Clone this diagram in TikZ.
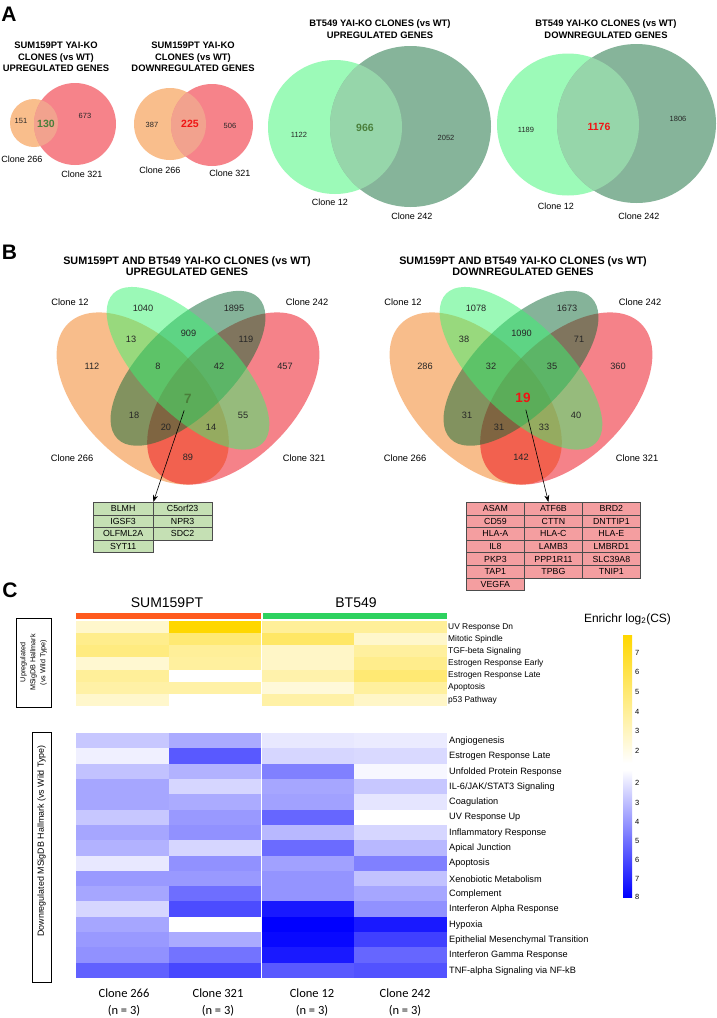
\documentclass[tikz,border=0pt]{standalone}
\usepackage{fontspec}
\setmainfont{Liberation Sans}
\newfontfamily\carlito{Carlito}
\usetikzlibrary{positioning,arrows.meta}

% venn colours
\definecolor{vorange}{RGB}{249,190,140}
\definecolor{vred}{RGB}{246,131,138}
\definecolor{vlens}{RGB}{242,162,142}
\definecolor{vlgreen}{RGB}{156,250,184}
\definecolor{vdgreen}{RGB}{134,180,154}
\definecolor{vglens}{RGB}{150,214,170}
\definecolor{borange}{RGB}{243,125,25}
\definecolor{bred}{RGB}{237,7,21}
\definecolor{blgreen}{RGB}{57,245,113}
\definecolor{bdgreen}{RGB}{13,105,53}
\definecolor{numgreen}{RGB}{74,127,58}
\definecolor{numred}{RGB}{240,20,20}
% tables and heatmap
\definecolor{tabgreen}{RGB}{197,224,180}
\definecolor{tabpink}{RGB}{244,158,160}
\definecolor{hmyellow}{RGB}{255,215,0}
\definecolor{hmblue}{RGB}{0,0,255}
\definecolor{barorange}{RGB}{255,90,30}
\definecolor{bargreen}{RGB}{45,210,95}

\tikzset{
  panel/.style={inner sep=0pt,font=\fontsize{21}{21}\selectfont\bfseries},
  atitle/.style={inner sep=0pt,align=center,font=\fontsize{9.4}{11.7}\selectfont\bfseries},
  btitle/.style={inner sep=0pt,align=center,font=\fontsize{10.8}{11}\selectfont\bfseries},
  anum/.style={inner sep=0pt,text=black!85,font=\fontsize{7.5}{8}\selectfont},
  acore/.style={inner sep=0pt,font=\fontsize{10.5}{11}\selectfont\bfseries},
  clone/.style={inner sep=0pt,font=\fontsize{9}{10}\selectfont},
  bnum/.style={inner sep=0pt,text=black!85,font=\fontsize{9.2}{10}\selectfont},
  bcore/.style={inner sep=0pt,font=\fontsize{13.5}{14}\selectfont\bfseries},
  gcell/.style={draw=black!70,line width=0.8pt,fill=tabgreen,minimum width=59.5pt,
    minimum height=12.5pt,inner sep=0pt,anchor=north west,font=\fontsize{8.8}{9}\selectfont},
  pcell/.style={gcell,fill=tabpink,minimum width=58pt,minimum height=12.6pt},
  hdr/.style={inner sep=0pt,font=\fontsize{14}{14}\selectfont},
  uprow/.style={inner sep=0pt,anchor=west,font=\fontsize{8.4}{9}\selectfont},
  dnrow/.style={inner sep=0pt,anchor=west,font=\fontsize{9.2}{10}\selectfont},
  hmtick/.style={inner sep=0pt,anchor=west,font=\fontsize{7.5}{8}\selectfont},
  collab/.style={inner sep=0pt,align=center,font=\carlito\fontsize{12.5}{17}\selectfont},
  callout/.style={-{Stealth[length=7pt,width=5pt]},line width=0.6pt},
}

\begin{document}
\begin{tikzpicture}[x=1pt,y=-1pt]
\useasboundingbox[fill=white] (0,0) rectangle (717,1018);

% ---------------- A ----------------
\node[panel] (labA) at (9,14.5) {A};
\node[atitle] (titA1) at (56,57) {SUM159PT YAI-KO\\CLONES (vs WT)\\UPREGULATED GENES};
\node[atitle] (titA2) at (193,57) {SUM159PT YAI-KO\\CLONES (vs WT)\\DOWNREGULATED GENES};
\node[atitle] (titA3) at (380,29) {BT549 YAI-KO CLONES (vs WT)\\UPREGULATED GENES};
\node[atitle] (titA4) at (606,29) {BT549 YAI-KO CLONES (vs WT)\\DOWNREGULATED GENES};

\foreach \xa/\ya/\ra/\xb/\yb/\rb/\ca/\cb/\cl in {34/123/24/75/124/41/vorange/vred/vlens,
    170/124/36/212/125/41/vorange/vred/vlens,
    335/127/67/410.5/126.5/80.5/vlgreen/vdgreen/vglens,
    568/124.5/71/636.5/123.5/79.5/vlgreen/vdgreen/vglens}{
  \fill[\ca] (\xa,\ya) circle (\ra);
  \fill[\cb] (\xb,\yb) circle (\rb);
  \begin{scope}
    \clip (\xa,\ya) circle (\ra);
    \fill[\cl] (\xb,\yb) circle (\rb);
  \end{scope}
}

\node[anum] (a1l) at (21,121) {151};
\node[acore,text=numgreen] (a1c) at (46,124) {130};
\node[anum] (a1r) at (85,116) {673};
\node[anum] (a2l) at (152,125) {387};
\node[acore,text=numred] (a2c) at (190,124) {225};
\node[anum] (a2r) at (230,126) {506};
\node[anum] (a3l) at (299,135) {1122};
\node[acore,text=numgreen] (a3c) at (365,128) {966};
\node[anum] (a3r) at (446,138) {2052};
\node[anum] (a4l) at (526,130) {1189};
\node[acore,text=numred] (a4c) at (599,127) {1176};
\node[anum] (a4r) at (678,119) {1806};

\node[clone] (a1c266) at (22,159) {Clone 266};
\node[clone] (a1c321) at (82,174) {Clone 321};
\node[clone] (a2c266) at (160,170) {Clone 266};
\node[clone] (a2c321) at (230,173) {Clone 321};
\node[clone] (a3c12) at (330,202) {Clone 12};
\node[clone] (a3c242) at (412,216) {Clone 242};
\node[clone] (a4c12) at (556,206) {Clone 12};
\node[clone] (a4c242) at (639,216) {Clone 242};

% ---------------- B ----------------
\node[panel] (labB) at (9.5,252) {B};
\node[btitle] (titBu) at (187,266.5) {SUM159PT AND BT549 YAI-KO CLONES (vs WT)\\UPREGULATED GENES};
\node[btitle] (titBd) at (523,266.5) {SUM159PT AND BT549 YAI-KO CLONES (vs WT)\\DOWNREGULATED GENES};

\foreach \dx in {0,333}{
  \begin{scope}[xshift=\dx]
    \fill[borange,fill opacity=.5,rotate around={-45:(142.7,398.5)}] (142.7,398.5) ellipse [x radius=105.7,y radius=60.4];
    \fill[bred,fill opacity=.5,rotate around={45:(233.3,398.5)}] (233.3,398.5) ellipse [x radius=105.7,y radius=60.4];
    \fill[bdgreen,fill opacity=.5,rotate around={45:(188,368.3)}] (188,368.3) ellipse [x radius=99.7,y radius=45.3];
    \fill[blgreen,fill opacity=.5,rotate around={-45:(188,368.3)}] (188,368.3) ellipse [x radius=105.7,y radius=45.3];
    \node[clone,font=\fontsize{9.3}{10}\selectfont] (c12-\dx) at (70,302.5) {Clone 12};
    \node[clone,font=\fontsize{9.3}{10}\selectfont] (c242-\dx) at (307,302.5) {Clone 242};
    \node[clone,font=\fontsize{9.3}{10}\selectfont] (c266-\dx) at (72,458) {Clone 266};
    \node[clone,font=\fontsize{9.3}{10}\selectfont] (c321-\dx) at (304,458) {Clone 321};
  \end{scope}
}

\foreach \x/\y/\u/\d [count=\i] in {143/308.5/1040/1078, 234/308.5/1895/1673, 188.5/333.5/909/1090,
    131/339.5/13/38, 246/339.5/119/71, 92/366.5/112/286, 158/366.5/8/32, 219/366.5/42/35,
    285/366.5/457/360, 134/415/18/31, 243/415/55/40, 166/427.5/20/31, 211/427.5/14/33, 188/457/89/142}{
  \node[bnum] (up\i) at (\x,\y) {\u};
  \node[bnum] (dn\i) at (\x+333,\y) {\d};
}
\node[bcore,text=numgreen] (upcore) at (188,399) {7};
\node[bcore,text=numred] (dncore) at (523,398) {19};

% gene tables
\foreach \g [count=\i from 0] in {BLMH,C5orf23,IGSF3,NPR3,OLFML2A,SDC2,SYT11}{
  \pgfmathtruncatemacro\gr{\i/2}
  \pgfmathtruncatemacro\gc{mod(\i,2)}
  \node[gcell] (gl-\gr-\gc) at ({93+59.5*\gc},{502+12.5*\gr}) {\g};
}
\foreach \g [count=\i from 0] in {ASAM,ATF6B,BRD2,CD59,CTTN,DNTTIP1,HLA-A,HLA-C,HLA-E,IL8,
    LAMB3,LMBRD1,PKP3,PPP1R11,SLC39A8,TAP1,TPBG,TNIP1,VEGFA}{
  \pgfmathtruncatemacro\gr{\i/3}
  \pgfmathtruncatemacro\gc{mod(\i,3)}
  \node[pcell] (pk-\gr-\gc) at ({466+58*\gc},{502+12.6*\gr}) {\g};
}
\draw[callout,shorten <=12pt] (upcore.center) -- (gl-0-0.north east);
\draw[callout,shorten <=12pt] (dncore.center) -- ([xshift=-5pt]pk-0-1.north);

% ---------------- C ----------------
\node[panel] (labC) at (10,590) {C};
\node[hdr] (hdsum) at (167,603) {SUM159PT};
\node[hdr] (hdbt) at (356,603) {BT549};
\fill[barorange] (76,613) rectangle (260.5,619);
\fill[bargreen] (262.5,613) rectangle (447,619);

% upregulated hallmarks
\foreach \p/\q/\s/\t [count=\r from 0] in {20/100/40/40, 45/55/60/20, 50/40/22/38, 18/38/22/45,
    40/0/33/55, 35/35/15/38, 20/0/35/22}{
  \foreach \v [count=\c from 0] in {\p,\q,\s,\t}
    \fill[hmyellow!\v!white] ({76+92.75*\c},{621+12.15*\r}) rectangle ++(93.1,12.5);
}
\foreach \lab [count=\r from 0] in {UV Response Dn, Mitotic Spindle, TGF-beta Signaling,
    Estrogen Response Early, Estrogen Response Late, Apoptosis, p53 Pathway}
  \node[uprow] (ur-\r) at (448,{627+12.15*\r}) {\lab};

% downregulated hallmarks
\foreach \p/\q/\s/\t [count=\r from 0] in {22/33/9/8, 6/65/16/15, 24/30/50/3, 35/16/35/22,
    35/33/37/10, 22/40/60/0, 35/43/28/16, 30/16/58/28, 9/43/37/50, 40/40/42/24, 35/57/42/35,
    16/70/90/43, 35/0/100/90, 40/33/97/75, 43/55/90/60, 62/72/65/68}{
  \foreach \v [count=\c from 0] in {\p,\q,\s,\t}
    \fill[hmblue!\v!white] ({76+92.75*\c},{733+15.3125*\r}) rectangle ++(93.1,15.7);
}
\foreach \lab [count=\r from 0] in {Angiogenesis, Estrogen Response Late, Unfolded Protein Response,
    IL-6/JAK/STAT3 Signaling, Coagulation, UV Response Up, Inflammatory Response, Apical Junction,
    Apoptosis, Xenobiotic Metabolism, Complement, Interferon Alpha Response, Hypoxia,
    Epithelial Mesenchymal Transition, Interferon Gamma Response, TNF-alpha Signaling via NF-kB}
  \node[dnrow] (dr-\r) at (449,{741+15.3125*\r}) {\lab};

\draw[white,line width=1.6pt] (261.5,612) -- (261.5,979);

% side boxes
\node[draw,line width=1pt,rotate=90,minimum width=89pt,minimum height=35pt,inner sep=0pt,
  align=center,font=\fontsize{7.2}{10}\selectfont] (boxup) at (33.5,662.5) {Upregulated\\MSigDB Hallmark\\(vs Wild Type)};
\node[draw,line width=1pt,rotate=90,minimum width=250pt,minimum height=19pt,inner sep=0pt] (boxdn) at (41.5,857) {};
\node[rotate=90,inner sep=0pt,font=\fontsize{8.9}{9}\selectfont] (boxdnlab) at (41.5,841) {Downregulated MSigDB Hallmark (vs Wild Type)};

% colour key
\node[inner sep=0pt,font=\fontsize{12}{12}\selectfont] (cbtitle) at (627.5,619) {Enrichr log\textsubscript{2}(CS)};
\shade[top color=hmyellow,bottom color=white] (623,635) rectangle (632,763);
\shade[top color=white,bottom color=hmblue] (623,770) rectangle (632,897);
\foreach \v/\y in {7/653,6/672,5/692,4/712,3/731,2/751}
  \node[hmtick] (yt\v) at (635,\y) {\v};
\foreach \v/\y in {2/783,3/803,4/822,5/841,6/860,7/879,8/897}
  \node[hmtick] (bt\v) at (635,\y) {\v};

% column labels
\foreach \x/\lab [count=\i] in {124/Clone 266,218/Clone 321,312/Clone 12,405/Clone 242}
  \node[collab] (col\i) at (\x,1002.5) {\lab\\(n = 3)};

\end{tikzpicture}
\end{document}
